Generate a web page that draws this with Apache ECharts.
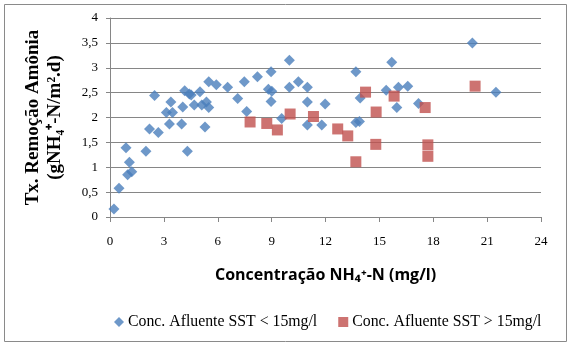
<!DOCTYPE html>
<html>
<head>
<meta charset="utf-8">
<script src="https://cdn.jsdelivr.net/npm/echarts@6/dist/echarts.min.js"></script>
<style>
html,body{margin:0;padding:0;background:#fff;}
#chart{width:567px;height:342px;}
</style>
</head>
<body>
<div id="chart"></div>
<script>
const seriesNames = ['Conc. Afluente SST < 15mg/l', 'Conc. Afluente SST > 15mg/l'];
const blueX = [0.22,0.50,0.89,0.98,1.08,1.21,2.00,2.20,2.48,2.69,3.14,3.31,3.39,3.48,3.99,4.05,4.16,4.31,4.42,4.52,4.69,5.01,5.11,5.29,5.37,5.50,5.50,5.92,6.55,7.11,7.48,7.61,8.21,8.82,8.97,9.01,8.97,9.56,9.99,9.99,10.49,10.99,10.99,10.99,11.79,11.98,13.69,13.93,13.69,13.89,15.38,15.69,16.06,15.97,16.58,17.18,20.18,21.49];
const blueY = [0.16,0.58,1.39,0.85,1.10,0.91,1.32,1.77,2.44,1.70,2.10,1.87,2.31,2.10,1.87,2.21,2.54,1.32,2.47,2.45,2.25,2.52,2.25,1.81,2.31,2.20,2.72,2.66,2.61,2.38,2.72,2.12,2.82,2.57,2.92,2.53,2.32,1.98,3.15,2.61,2.72,2.61,2.31,1.85,1.85,2.27,2.92,2.39,1.90,1.92,2.55,3.11,2.61,2.20,2.63,2.28,3.50,2.51];
const redX = [7.80,8.73,9.32,10.03,11.33,12.68,13.24,13.69,14.23,14.82,14.80,15.82,17.55,17.70,17.70,20.33];
const redY = [1.91,1.88,1.75,2.07,2.02,1.77,1.63,1.11,2.51,2.11,1.46,2.43,2.20,1.45,1.22,2.63];
const xTicks = [0,3,6,9,12,15,18,21,24];
const yTicks = [0,0.5,1,1.5,2,2.5,3,3.5,4];
const xTitle = 'Concentração NH\u2084\u207A-N (mg/l)';
const yTitle = 'Tx. Remoção Amônia\n(gNH\u2084\u207A-N/m\u00B2.d)';

const pairs = (xs, ys) => xs.map((x, i) => [x, ys[i]]);
const serif = '"Liberation Serif", "Times New Roman", serif';

const chart = echarts.init(document.getElementById('chart'), null, {renderer: 'canvas'});
chart.setOption({
  animation: false,
  backgroundColor: '#fff',
  graphic: [{
    type: 'rect', left: 2, top: 2, z: -1,
    shape: {width: 562, height: 337},
    style: {fill: 'none', stroke: '#8a8a8a', lineWidth: 1}
  }],
  grid: {left: 110, right: 26, top: 18, bottom: 125},
  xAxis: {
    type: 'value', min: xTicks[0], max: xTicks[xTicks.length - 1], interval: 3,
    axisLine: {show: true, lineStyle: {color: '#868686'}},
    axisTick: {show: true, length: 5, lineStyle: {color: '#868686'}},
    splitLine: {show: false},
    axisLabel: {color: '#000', fontFamily: serif, fontSize: 13, margin: 18},
    name: xTitle, nameLocation: 'middle', nameGap: 50,
    nameTextStyle: {color: '#000', fontFamily: '"Open Sans", sans-serif', fontWeight: 'bold', fontSize: 16}
  },
  yAxis: {
    type: 'value', min: yTicks[0], max: yTicks[yTicks.length - 1], interval: 0.5,
    axisLine: {show: true, lineStyle: {color: '#868686'}},
    axisTick: {show: true, length: 4, lineStyle: {color: '#868686'}},
    splitLine: {show: true, lineStyle: {color: '#868686', width: 1}},
    axisLabel: {color: '#000', fontFamily: serif, fontSize: 13, margin: 12,
      formatter: v => String(v).replace('.', ',')},
    name: yTitle, nameLocation: 'middle', nameRotate: 90, nameGap: 44,
    nameTextStyle: {color: '#000', fontFamily: serif, fontWeight: 'bold', fontSize: 19, lineHeight: 22, align: 'center'}
  },
  legend: {
    top: 309, left: 109, itemWidth: 10, itemHeight: 10, itemGap: 21,
    textStyle: {color: '#000', fontFamily: serif, fontSize: 15.8, padding: [0, 0, 0, -1]},
    data: [{name: seriesNames[0], icon: 'diamond'}, {name: seriesNames[1], icon: 'rect'}]
  },
  series: [
    {name: seriesNames[0], type: 'scatter', symbol: 'diamond', symbolSize: 11,
     itemStyle: {color: '#4A7EBB'}, data: pairs(blueX, blueY), emphasis: {disabled: true}},
    {name: seriesNames[1], type: 'scatter', symbol: 'rect', symbolSize: 11,
     itemStyle: {color: '#C0504D'}, data: pairs(redX, redY), emphasis: {disabled: true}}
  ]
});
</script>
</body>
</html>
